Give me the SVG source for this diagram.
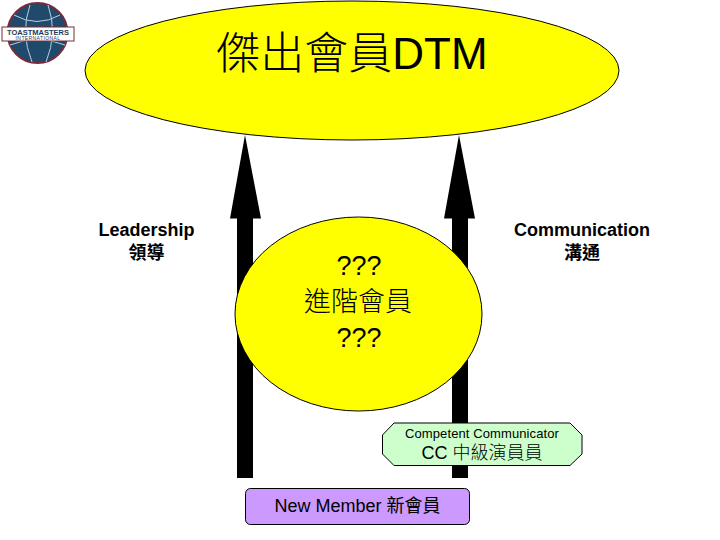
<svg xmlns="http://www.w3.org/2000/svg" width="720" height="540" viewBox="0 0 720 540">
<style>
text{font-family:"Liberation Sans","Noto Sans CJK TC",sans-serif;fill:#000;text-anchor:middle}
.y{fill:#ff0;stroke:#000;stroke-width:1}
.b{font-weight:bold}
</style>
<rect width="720" height="540" fill="#fff"/>
<g id="logo">
<circle cx="37.500" cy="33" r="30" fill="#1f4a6b" stroke="#7a2a3a" stroke-width="2"/>
<path d="M14 15Q37 28 60 15M10 45Q37 34 65 45M30 5Q20 33 32 62M48 5Q58 33 46 62" fill="none" stroke="#b8d0e0" stroke-width="1"/>
<rect x="2" y="27" width="72" height="14" fill="#fff" stroke="#7a2a3a" stroke-width="1"/>
<text x="38" y="34.500" font-size="7.500" class="b" style="fill:#1f3a5a">TOASTMASTERS</text>
<text x="38" y="40" font-size="5" letter-spacing=".4" style="fill:#1f3a5a">INTERNATIONAL</text>
</g>
<g id="connectors">
<polygon points="237,478 237,218.500 230,218.500 245,135 261,218.500 253,218.500 253,478" fill="#000"/>
<polygon points="452,478 452,218.500 444,218.500 459,135 475,218.500 468,218.500 468,478" fill="#000"/>
</g>
<g id="dtm">
<ellipse class="y" cx="352" cy="70.500" rx="267" ry="69.500"/>
<text x="352" y="69" font-size="44" font-weight="300">傑出會員DTM</text>
</g>
<g id="advanced">
<ellipse class="y" cx="358.500" cy="314" rx="123.500" ry="97"/>
<text x="359" y="275" font-size="27" font-weight="300">???</text>
<text x="358" y="311" font-size="27" font-weight="300">進階會員</text>
<text x="359" y="347" font-size="27" font-weight="300">???</text>
</g>
<g id="leadership">
<text x="146.500" y="236" font-size="18" class="b">Leadership</text>
<text x="146.500" y="259" font-size="18" class="b">領導</text>
</g>
<g id="communication">
<text x="582" y="236" font-size="18" class="b">Communication</text>
<text x="582" y="259" font-size="18" class="b">溝通</text>
</g>
<g id="cc">
<polygon points="394,423 570,423 582,435 582,454 570,465.500 394,465.500 382.500,454 382.500,435" fill="#ccffcc" stroke="#000"/>
<text x="482" y="438" font-size="13" font-weight="300" letter-spacing=".1">Competent Communicator</text>
<text x="482" y="459" font-size="18" font-weight="300">CC 中級演員員</text>
</g>
<g id="newmember">
<rect x="245.500" y="488.500" width="224" height="36" rx="5" fill="#cc99ff" stroke="#000"/>
<text x="357.500" y="512" font-size="18">New Member 新會員</text>
</g>
</svg>
